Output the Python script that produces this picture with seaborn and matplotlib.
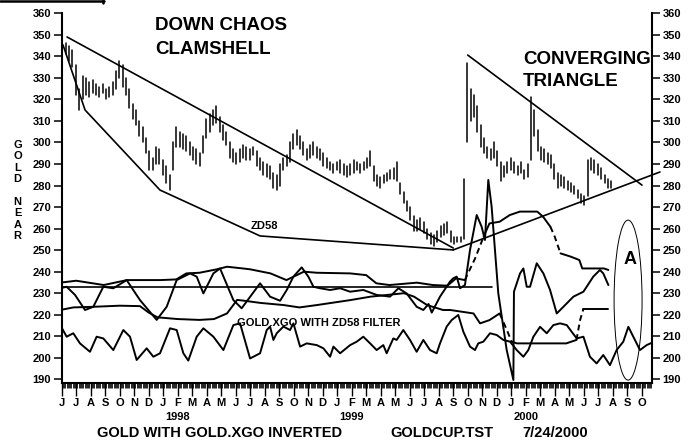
import numpy as np
import pandas as pd
import matplotlib
matplotlib.use("Agg")
import matplotlib.pyplot as plt
import seaborn as sns
from matplotlib.patches import Ellipse
from matplotlib.lines import Line2D

# ---------------- data ----------------
# weekly gold price ranges (week 0 = first week of June 1997)
price_high = [347, 346, 345, 343, 336, 325, 331, 330, 328, 329,
              327, 326, 327, 325, 326, 328, 333, 338, 336, 330,
              325, 318, 315, 310, 307, 302, 296, 293, 298, 297,
              292, 289, 285, 300, 307, 305, 304, 303, 300, 298,
              297, 295, 303, 311, 313, 315, 317, 312, 308, 305,
              300, 297, 295, 297, 299, 298, 297, 298, 296, 293,
              291, 290, 289, 286, 285, 290, 293, 294, 300, 304,
              306, 303, 300, 297, 299, 300, 298, 297, 295, 293,
              291, 290, 291, 292, 290, 289, 290, 292, 291, 290,
              291, 293, 296, 289, 285, 284, 285, 286, 287, 288,
              291, 281, 277, 273, 270, 266, 264, 265, 263, 260,
              258, 257, 259, 261, 262, 263, 259, 256, 256, 256,
              283, 337, 325, 322, 317, 308, 302, 298, 297, 300,
              296, 291, 289, 291, 293, 291, 289, 291, 287, 290,
              321, 315, 306, 298, 297, 295, 294, 290, 286, 285,
              284, 282, 281, 280, 278, 276, 275, 292, 293, 292,
              290, 288, 285, 283, 282]
price_low = [340, 341, 338, 335, 322, 315, 320, 322, 321, 323,
             322, 321, 323, 320, 321, 322, 325, 330, 326, 322,
             316, 311, 308, 303, 300, 295, 287, 287, 290, 290,
             285, 281, 278, 287, 298, 298, 297, 296, 294, 292,
             290, 289, 295, 302, 305, 308, 309, 305, 301, 299,
             293, 291, 290, 291, 293, 292, 292, 294, 289, 287,
             285, 284, 283, 279, 278, 280, 287, 289, 291, 297,
             299, 297, 294, 292, 293, 294, 293, 292, 289, 288,
             287, 286, 287, 286, 285, 284, 285, 286, 287, 286,
             287, 288, 289, 282, 280, 279, 281, 282, 283, 283,
             282, 276, 272, 268, 264, 259, 259, 260, 258, 255,
             253, 252, 254, 256, 257, 258, 254, 253, 254, 254,
             255, 300, 310, 312, 305, 298, 295, 293, 292, 293,
             289, 282, 284, 286, 287, 286, 285, 286, 283, 284,
             292, 303, 296, 292, 291, 290, 288, 283, 279, 280,
             279, 278, 277, 276, 274, 272, 271, 275, 287, 286,
             285, 283, 281, 279, 279]

# trend lines (x in months since June 1997)
clam_top_m = [0.37, 27.0]
clam_top_v = [349.0, 251.0]
clam_low_m = [0.09, 1.61, 6.78, 13.68, 27.0]
clam_low_v = [345.3, 315.1, 277.9, 256.6, 250.1]
tri_low_m = [27.0, 41.26]
tri_low_v = [250.1, 286.3]
tri_up_m = [28.0, 40.02]
tri_up_v = [340.6, 280.2]

# upper band
band_up_m = [-0.1, 1.0, 2.9, 4.5, 6.8, 7.9, 8.6, 9.5, 10.7, 11.4, 12.5, 13.0, 14.4,
             15.5, 16.0, 16.7, 17.6, 19.9, 21.0, 21.7, 22.6, 24.5, 25.6, 26.6, 27.2,
             27.8, 28.5, 29.1, 29.5, 30.2, 30.9, 31.6, 32.8, 33.2, 33.7, 34.0, 34.4,
             35.1, 35.7, 35.9, 36.7, 37.4, 37.7]
band_up_v = [234.9, 235.8, 233.8, 236.1, 236.1, 236.4, 239.2, 239.5, 241.1, 242.3, 241.5,
             241.1, 239.2, 236.1, 237.7, 240.0, 239.5, 239.2, 238.4, 234.6, 233.8, 234.9,
             233.8, 233.5, 236.9, 236.1, 246.0, 256.3, 262.4, 263.2, 266.3, 267.9, 267.9,
             265.5, 260.9, 256.3, 248.5, 247.0, 245.4, 241.5, 241.5, 241.5, 240.8]
band_up_dashed = [(27.8, 29.1), (33.7, 34.4)]

# lower band
band_lo_m = [-0.1, 0.8, 2.2, 4.0, 5.4, 6.0, 6.6, 8.0, 9.5, 10.5, 11.4, 12.1, 12.6, 13.7,
             15.3, 16.4, 17.6, 19.9, 21.3, 23.6, 24.3, 25.2, 26.3, 26.8, 28.4, 28.85,
             29.5, 30.2, 30.7, 31.03, 31.4, 34.8, 35.5, 35.75, 35.98, 37.7]
band_lo_v = [222.2, 223.4, 223.7, 224.2, 224.0, 221.0, 218.8, 218.0, 217.6, 218.0, 220.6,
             226.9, 226.5, 225.5, 224.5, 223.4, 224.5, 226.8, 228.4, 230.0, 228.4, 224.5,
             222.2, 222.2, 220.6, 216.0, 217.5, 220.6, 212.9, 207.5, 206.7, 206.7, 208.3,
             217.5, 222.7, 222.7]
band_lo_dashed = [(30.2, 31.03), (35.5, 35.98)]

# flat reference line
ref_m = [0.0, 29.7]
ref_v = [232.8, 232.8]

# ZD58 oscillator
zd_m = [-0.1, 0.34, 0.92, 1.61, 2.18, 2.87, 3.56, 4.48, 5.40, 6.55, 7.24, 7.93, 8.85,
        9.31, 9.77, 10.46, 10.92, 11.84, 12.41, 13.68, 14.37, 15.06, 15.52, 15.98, 16.55,
        17.01, 17.36, 17.82, 18.51, 19.2, 19.89, 20.8, 21.72, 22.64, 23.22, 23.79, 24.48,
        24.94, 25.3, 25.52, 26.09, 26.78, 27.0, 27.24, 27.47, 27.81, 28.16, 28.62, 28.96,
        29.19, 29.42, 29.65, 30.11, 30.69, 31.15, 31.19, 31.61, 31.84, 32.07, 32.3, 32.76,
        33.22, 33.68, 34.14, 34.6, 35.29, 35.98, 36.66, 37.12, 37.35, 37.7]
zd_v = [232.3, 233.0, 229.2, 222.2, 223.7, 233.0, 232.3, 236.1, 226.8, 217.6, 223.7,
        236.1, 239.2, 237.7, 229.9, 239.2, 241.5, 226.8, 223.0, 234.6, 228.4, 226.5,
        231.5, 237.7, 242.0, 237.7, 233.0, 232.3, 231.5, 232.3, 230.7, 231.5, 229.2,
        228.4, 232.3, 229.9, 223.7, 222.2, 225.0, 221.0, 228.4, 235.4, 236.9, 237.7,
        232.3, 233.8, 250.1, 266.3, 260.9, 254.7, 282.6, 270.2, 229.9, 203.6, 189.7,
        230.7, 239.2, 241.5, 233.0, 233.0, 243.9, 239.2, 231.5, 220.6, 223.7, 228.4,
        230.7, 237.7, 240.8, 239.2, 233.8]

# GOLD.XGO with ZD58 filter
xgo_m = [-0.1, 0.34, 0.8, 1.26, 1.95, 2.41, 2.87, 3.56, 4.25, 4.71, 5.17, 5.86, 6.32,
         6.78, 7.47, 7.93, 8.39, 8.73, 9.31, 9.77, 10.46, 11.15, 11.84, 12.3, 12.99,
         13.68, 14.14, 14.37, 14.6, 14.83, 15.29, 15.75, 15.98, 16.44, 16.9, 17.59,
         18.05, 18.51, 18.74, 19.2, 19.89, 20.35, 20.8, 21.27, 21.72, 22.18, 22.41,
         22.87, 23.1, 23.56, 24.02, 24.48, 24.94, 25.4, 25.86, 26.09, 26.55, 26.89,
         27.35, 27.7, 28.16, 28.5, 28.73, 29.08, 29.54, 30.0, 30.46, 30.92, 31.38,
         31.84, 32.18, 32.53, 32.99, 33.45, 33.91, 34.37, 34.83, 35.17, 35.52, 35.98,
         36.43, 36.89, 37.35, 37.81, 38.27, 38.73, 39.08, 39.42, 39.88, 40.34, 40.7]
xgo_v = [215.2, 209.8, 211.4, 206.7, 202.8, 209.8, 209.0, 203.6, 212.9, 209.8, 199.0,
         204.4, 200.5, 202.1, 213.7, 212.9, 202.1, 198.7, 209.8, 213.7, 209.8, 203.6,
         215.2, 216.0, 199.7, 202.1, 212.9, 214.5, 208.3, 211.4, 214.5, 212.9, 216.0,
         205.2, 206.7, 205.9, 204.4, 200.5, 205.2, 202.1, 205.9, 207.5, 209.8, 206.7,
         203.6, 205.9, 202.1, 209.0, 208.3, 212.9, 208.3, 202.8, 208.3, 203.6, 202.1,
         206.7, 214.5, 217.5, 219.9, 212.1, 205.2, 203.6, 206.7, 207.5, 211.4, 210.6,
         208.3, 207.5, 203.6, 200.5, 203.6, 209.8, 214.4, 211.4, 215.2, 216.0, 215.2,
         212.1, 209.0, 209.8, 200.5, 197.4, 201.3, 196.6, 203.6, 207.5, 214.4, 209.8,
         203.6, 205.9, 207.0]

month_letters = list("JJASONDJFMAMJJASONDJFMAMJJASONDJFMAMJJASO")
year_labels = ["1998", "1999", "2000"]
year_months = [7, 19, 31]
y_ticks = list(range(190, 361, 10))

# ---------------- figure ----------------
sns.set_theme(style="ticks")
plt.rcParams['font.family'] = ['Liberation Sans', 'DejaVu Sans']
plt.rcParams['font.weight'] = 'bold'

W, H = 695, 440
fig = plt.figure(figsize=(W / 100, H / 100), dpi=100)
fig.patch.set_facecolor('white')
ax = fig.add_axes([61.7 / W, 1 - 383 / H, (652 - 61.7) / W, (383 - 13.3) / H])
ax.set_facecolor('white')

LW = 1.4
K = 'black'

# price bars
n = len(price_high)
wx = 0.05 + np.arange(n) * 12 / 52
bars = pd.DataFrame({
    'week': np.repeat(np.arange(n), 2),
    'month': np.repeat(wx, 2),
    'price': np.ravel(np.column_stack([price_low, price_high])),
})
sns.lineplot(data=bars, x='month', y='price', units='week', estimator=None,
             color=K, lw=1.1, sort=False, ax=ax, legend=False)


def draw(m, v, dashed=(), lw=LW, clip=True):
    m = list(m)
    v = list(v)

    def is_dash(a, b):
        mid = (a + b) / 2
        return any(lo <= mid <= hi for lo, hi in dashed)

    groups = []
    cur = [0]
    cur_style = is_dash(m[0], m[1]) if len(m) > 1 else False
    for i in range(1, len(m)):
        st = is_dash(m[i - 1], m[i])
        if st != cur_style:
            groups.append((cur_style, cur))
            cur = [i - 1]
            cur_style = st
        cur.append(i)
    groups.append((cur_style, cur))
    for st, idx in groups:
        df = pd.DataFrame({'m': [m[i] for i in idx], 'v': [v[i] for i in idx]})
        sns.lineplot(data=df, x='m', y='v', sort=False, estimator=None, color=K,
                     lw=lw, linestyle=(0, (3, 2)) if st else '-', ax=ax, legend=False)
        ax.lines[-1].set_clip_on(clip)


draw(clam_top_m, clam_top_v, lw=1.2)
draw(clam_low_m, clam_low_v, lw=1.2)
draw(tri_low_m, tri_low_v, lw=1.2, clip=False)
draw(tri_up_m, tri_up_v, lw=1.2)
draw(ref_m, ref_v, lw=1.2)
draw(band_up_m, band_up_v, band_up_dashed)
draw(band_lo_m, band_lo_v, band_lo_dashed)
draw(zd_m, zd_v)
draw(xgo_m, xgo_v)

ax.add_patch(Ellipse((39.06, 226.8), 1.93, 74.3, fill=False, lw=0.7, ec=K))

# axes styling
ax.set_xlim(0, 40.71)
ax.set_ylim(188.3, 360)
ax.set_xlabel('')
ax.set_ylabel('')
for s in ['left', 'right', 'bottom']:
    ax.spines[s].set_visible(True)
    ax.spines[s].set_linewidth(1.5)
    ax.spines[s].set_color(K)
ax.spines['top'].set_visible(False)

ax.set_yticks(y_ticks)
ax.set_yticklabels([str(t) for t in y_ticks])
ax.tick_params(axis='y', which='major', left=True, right=True, labelleft=True,
               labelright=True, length=5.5, width=1.1, pad=2.2, labelsize=8,
               colors=K, direction='out')
ax.set_xticks(np.arange(len(month_letters)))
ax.set_xticklabels(month_letters)
ax.set_xticks(np.arange(0, 40.71, 1 / 12), minor=True)
ax.tick_params(axis='x', which='major', length=9.5, width=1.0, pad=1.0,
               labelsize=8, colors=K, direction='out')
ax.tick_params(axis='x', which='minor', bottom=True, length=3.6, width=0.6,
               colors=K, direction='out')
for lab in ax.get_xticklabels() + ax.get_yticklabels():
    lab.set_fontweight('bold')


def ptext(px, py, s, **kw):
    kw.setdefault('fontweight', 'bold')
    kw.setdefault('color', K)
    fig.text(px / W, 1 - py / H, s, **kw)


for ym, yl in zip(year_months, year_labels):
    px = 61.7 + ym * 14.5
    ptext(px + 2, 417, yl, fontsize=8, ha='left', va='center')

ptext(97, 433, "GOLD WITH GOLD.XGO INVERTED", fontsize=10.5, ha='left', va='center')
ptext(390, 433, "GOLDCUP.TST", fontsize=10.5, ha='left', va='center')
ptext(522, 433, "7/24/2000", fontsize=10.5, ha='left', va='center')

ptext(155, 26, "DOWN CHAOS", fontsize=13.5, ha='left', va='center')
ptext(155, 49, "CLAMSHELL", fontsize=13.5, ha='left', va='center')
ptext(523, 60, "CONVERGING", fontsize=13.5, ha='left', va='center')
ptext(523, 82, "TRIANGLE", fontsize=13.5, ha='left', va='center')
ptext(630, 259, "A", fontsize=13, ha='center', va='center')
ptext(264, 226, "ZD58", fontsize=8, ha='center', va='center')
ptext(237, 323, "GOLD.XGO WITH ZD58 FILTER", fontsize=8, ha='left', va='center')

for i, ch in enumerate("GOLD"):
    ptext(17.5, 145 + i * 11.3, ch, fontsize=8, ha='center', va='center')
for i, ch in enumerate("NEAR"):
    ptext(17.5, 202 + i * 11.3, ch, fontsize=8, ha='center', va='center')

# partial box at top-left corner
fig.add_artist(Line2D([0, 104 / W], [1 - 1.5 / H, 1 - 1.5 / H], color=K, lw=1.8))
fig.add_artist(Line2D([103 / W, 103 / W], [1, 1 - 3 / H], color=K, lw=1.8))

fig.savefig("out.png", dpi=100, facecolor='white')
